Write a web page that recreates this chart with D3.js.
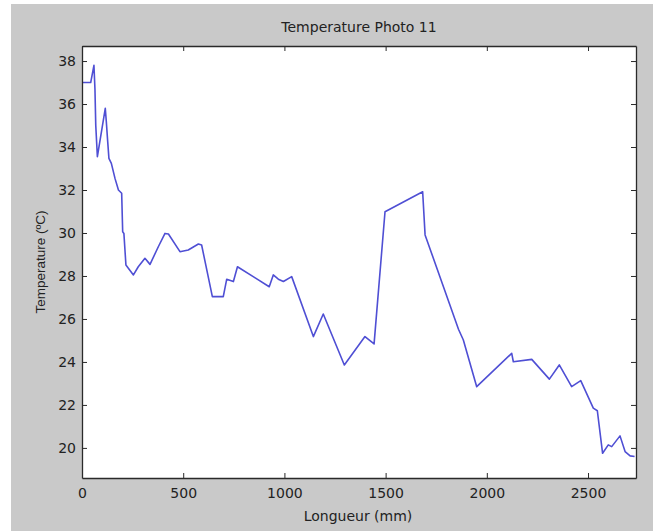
<!DOCTYPE html>
<html>
<head>
<meta charset="utf-8">
<script src="https://cdn.jsdelivr.net/npm/d3@7"></script>
<style>
  html, body { margin: 0; padding: 0; background: #fff; }
  svg { display: block; font-family: "DejaVu Sans", sans-serif; }
</style>
</head>
<body>
<svg id="chart" width="657" height="531"></svg>
<script>
// position along the bar (mm) and measured temperature (C)
const longueur = [0, 43, 59, 64, 68, 76, 115, 120, 127, 133, 145, 163, 180, 196, 201, 207, 217, 229, 254, 278,
  311, 336, 377, 410, 427, 484, 525, 575, 591, 644, 698, 715, 748, 768, 925, 945, 970, 995, 1036, 1143,
  1192, 1296, 1398, 1443, 1497, 1683, 1695, 1860, 1884, 1950, 2123, 2131, 2222, 2309, 2358, 2419, 2464,
  2526, 2546, 2572, 2600, 2617, 2658, 2683, 2708, 2730];
const temperature = [37.0, 37.0, 37.8, 36.7, 35.0, 33.55, 35.8, 35.2, 34.25, 33.47, 33.24, 32.54, 32.0, 31.85,
  30.06, 29.98, 28.51, 28.36, 28.05, 28.43, 28.82, 28.54, 29.36, 29.98, 29.95, 29.13, 29.21, 29.49, 29.44,
  27.04, 27.04, 27.85, 27.74, 28.43, 27.5, 28.05, 27.85, 27.74, 27.97, 25.18, 26.23, 23.86, 25.18, 24.84,
  30.99, 31.92, 29.91, 25.52, 25.02, 22.85, 24.4, 24.01, 24.12, 23.2, 23.86, 22.85, 23.13, 21.85, 21.73,
  19.75, 20.14, 20.06, 20.56, 19.83, 19.63, 19.6];
const xTicks = [0, 500, 1000, 1500, 2000, 2500];
const yTicks = [20, 22, 24, 26, 28, 30, 32, 34, 36, 38];

const svg = d3.select("#chart");
const m = { left: 82, right: 636, top: 46, bottom: 478 };

// grey figure background
svg.append("rect")
  .attr("x", 11).attr("y", 4)
  .attr("width", 642).attr("height", 527)
  .attr("fill", "#c9c9c9");

const x = d3.scaleLinear().domain([0, 2737]).range([m.left, m.right]);
const y = d3.scaleLinear().domain([18.6, 38.7]).range([m.bottom, m.top]);

svg.append("rect")
  .attr("x", m.left).attr("y", m.top)
  .attr("width", m.right - m.left).attr("height", m.bottom - m.top)
  .attr("fill", "#fff");

const data = longueur.map((d, i) => ({ x: d, t: temperature[i] }));

svg.append("path")
  .datum(data)
  .attr("fill", "none")
  .attr("stroke", "#4f4fd4")
  .attr("stroke-width", 1.6)
  .attr("stroke-linejoin", "round")
  .attr("d", d3.line().x(d => x(d.x)).y(d => y(d.t)));

// matlab style box: ticks point inward on all four sides
const fmt = d3.format("d");
const tickLen = -5;
const axes = [
  { ax: d3.axisBottom(x).tickValues(xTicks).tickFormat(fmt), tr: `translate(0,${m.bottom})`, pad: 10 },
  { ax: d3.axisTop(x).tickValues(xTicks).tickFormat(""), tr: `translate(0,${m.top})`, pad: 10 },
  { ax: d3.axisLeft(y).tickValues(yTicks).tickFormat(fmt), tr: `translate(${m.left},0)`, pad: 6 },
  { ax: d3.axisRight(y).tickValues(yTicks).tickFormat(""), tr: `translate(${m.right},0)`, pad: 6 }
];
axes.forEach(a => {
  const g = svg.append("g")
    .attr("transform", a.tr)
    .call(a.ax.tickSizeInner(tickLen).tickSizeOuter(0).tickPadding(a.pad));
  g.select(".domain").attr("stroke", "#2a2a2a").attr("stroke-width", 1.3);
  g.selectAll(".tick line").attr("stroke", "#2a2a2a");
  g.selectAll(".tick text")
    .attr("fill", "#222")
    .attr("font-family", "DejaVu Sans")
    .attr("font-size", 14);
});

svg.append("text")
  .attr("x", 359).attr("y", 32)
  .attr("text-anchor", "middle")
  .attr("font-size", 14).attr("fill", "#222")
  .text("Temperature Photo 11");

svg.append("text")
  .attr("x", 358).attr("y", 521)
  .attr("text-anchor", "middle")
  .attr("font-size", 14).attr("fill", "#222")
  .text("Longueur (mm)");

svg.append("text")
  .attr("transform", "translate(45,262) rotate(-90)")
  .attr("text-anchor", "middle")
  .attr("font-family", "Liberation Sans")
  .attr("font-size", 13.5).attr("fill", "#222")
  .text("Temperature (ºC)");
</script>
</body>
</html>
